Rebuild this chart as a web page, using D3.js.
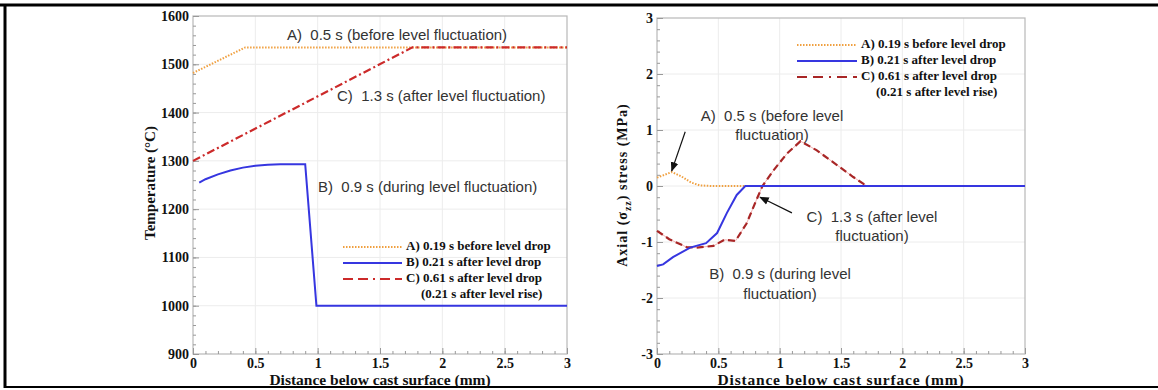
<!DOCTYPE html>
<html><head><meta charset="utf-8">
<script src="https://cdnjs.cloudflare.com/ajax/libs/d3/7.8.5/d3.min.js"></script>
<style>body{margin:0;background:#fff}svg{display:block}</style>
</head><body>
<svg id="chart" width="1158" height="390"></svg>
<script>
// ---------- DATA ----------
const xTicks = [0, 0.5, 1, 1.5, 2, 2.5, 3];
const xTickLabels = ["0", "0.5", "1", "1.5", "2", "2.5", "3"];
const tempTicks = [900, 1000, 1100, 1200, 1300, 1400, 1500, 1600];
const stressTicks = [-3, -2, -1, 0, 1, 2, 3];

// Temperature (°C) vs distance (mm)
const tempA = [[0,1482],[0.42,1535],[3,1535]];
const tempB = [[0.05,1255],[0.1,1262],[0.2,1272],[0.3,1280],[0.4,1286],[0.5,1290],[0.6,1292],[0.7,1293],[0.8,1293],[0.9,1293],[0.99,1000],[3,1000]];
const tempC = [[0,1300],[1.76,1535],[3,1535]];

// Axial stress (MPa) vs distance (mm)
const stressA = [[0,0.15],[0.05,0.19],[0.12,0.25],[0.2,0.17],[0.28,0.06],[0.35,0.01],[0.45,0],[3,0]];
const stressB = [[0,-1.43],[0.05,-1.4],[0.13,-1.27],[0.27,-1.1],[0.4,-1.02],[0.49,-0.84],[0.57,-0.48],[0.65,-0.16],[0.72,0],[3,0]];
const stressC = [[0,-0.8],[0.1,-0.95],[0.24,-1.09],[0.32,-1.1],[0.46,-1.07],[0.55,-0.96],[0.64,-0.98],[0.73,-0.67],[0.82,-0.2],[0.86,0],[0.95,0.28],[1.06,0.58],[1.17,0.8],[1.3,0.64],[1.47,0.37],[1.6,0.16],[1.71,0],[3,0]];

const legendLabels = ["A) 0.19 s before level drop", "B) 0.21 s after level drop", "C) 0.61 s after level drop", "(0.21 s after level rise)"];

// ---------- DRAW ----------
const svg = d3.select("#chart");
const serif = "'Liberation Serif','Times New Roman',serif";
const sans = "'Liberation Sans',Arial,sans-serif";

// border
svg.append("line").attr("x1",0).attr("x2",1158).attr("y1",5).attr("y2",5).attr("stroke","#000").attr("stroke-width",3);
svg.append("line").attr("x1",5).attr("x2",5).attr("y1",4).attr("y2",388).attr("stroke","#000").attr("stroke-width",3);
svg.append("line").attr("x1",4).attr("x2",1158).attr("y1",387).attr("y2",387).attr("stroke","#000").attr("stroke-width",2);

const orange = "#f0a040", blue = "#3636e0", red = "#cc2a2a", darkred = "#a82626";

function panel(o) {
  const x = d3.scaleLinear().domain([0,3]).range([o.left, o.right]);
  const y = d3.scaleLinear().domain(o.ydom).range([o.bottom, o.top]);
  const g = svg.append("g");
  // gridlines
  g.selectAll(".vg").data(xTicks.slice(1,-1)).join("line")
    .attr("x1",d=>x(d)).attr("x2",d=>x(d)).attr("y1",o.top).attr("y2",o.bottom)
    .attr("stroke","#ececec").attr("stroke-width",1);
  g.selectAll(".hg").data(o.yticks.slice(1,-1)).join("line")
    .attr("y1",d=>y(d)).attr("y2",d=>y(d)).attr("x1",o.left).attr("x2",o.right)
    .attr("stroke","#ececec").attr("stroke-width",1);
  // frame
  g.append("rect").attr("x",o.left).attr("y",o.top).attr("width",o.right-o.left).attr("height",o.bottom-o.top)
    .attr("fill","none").attr("stroke","#b8b8b8").attr("stroke-width",1.2);
  // axes with inward ticks
  const xAx = d3.axisBottom(x).tickValues(d3.range(0,3.001,0.1)).tickSize(-3).tickFormat("");
  g.append("g").attr("transform",`translate(0,${o.bottom})`).call(xAx)
    .call(s=>{s.select(".domain").remove(); s.selectAll("line").attr("stroke","#999");});
  const xAxM = d3.axisBottom(x).tickValues(xTicks).tickSize(-6).tickPadding(4).tickFormat((d,i)=>xTickLabels[i]);
  g.append("g").attr("transform",`translate(0,${o.bottom})`).call(xAxM)
    .call(s=>{s.select(".domain").remove(); s.selectAll("line").attr("stroke","#999");
      s.selectAll("text").attr("font-family",serif).attr("font-weight","bold").attr("font-size",14).attr("fill","#111");});
  const yAx = d3.axisLeft(y).tickValues(o.yminor).tickSize(-3).tickFormat("");
  g.append("g").attr("transform",`translate(${o.left},0)`).call(yAx)
    .call(s=>{s.select(".domain").remove(); s.selectAll("line").attr("stroke","#999");});
  const yAxM = d3.axisLeft(y).tickValues(o.yticks).tickSize(-6).tickPadding(4).tickFormat(d=>d);
  g.append("g").attr("transform",`translate(${o.left},0)`).call(yAxM)
    .call(s=>{s.select(".domain").remove(); s.selectAll("line").attr("stroke","#999");
      s.selectAll("text").attr("font-family",serif).attr("font-weight","bold").attr("font-size",14).attr("fill","#111");});
  // axis titles
  g.append("text").attr("x",(o.left+o.right)/2).attr("y",385).attr("text-anchor","middle")
    .attr("font-family",serif).attr("font-weight","bold").attr("font-size",15.5).attr("fill","#111")
    .attr("letter-spacing",o.xls).text("Distance below cast surface (mm)");
  return {x,y,g};
}

const line = (x,y)=>d3.line().x(d=>x(d[0])).y(d=>y(d[1]));

// ---- Left panel ----
const L = panel({left:193,right:567,top:16,bottom:354,ydom:[900,1600],yticks:tempTicks,
  yminor:d3.range(900,1601,20),xls:0});
L.g.append("path").attr("d",line(L.x,L.y)(tempA)).attr("fill","none").attr("stroke",orange).attr("stroke-width",2).attr("stroke-dasharray","1.5,1.5");
L.g.append("path").attr("d",line(L.x,L.y)(tempC)).attr("fill","none").attr("stroke",red).attr("stroke-width",2.2).attr("stroke-dasharray","8,3,2,3");
L.g.append("path").attr("d",line(L.x,L.y)(tempB)).attr("fill","none").attr("stroke",blue).attr("stroke-width",2);
// y title
svg.append("text").attr("transform","translate(155,183) rotate(-90)").attr("text-anchor","middle")
  .attr("font-family",serif).attr("font-weight","bold").attr("font-size",15).attr("fill","#111").text("Temperature (°C)");
// annotations
function ann(x,y,t,anchor){
  svg.append("text").attr("x",x).attr("y",y).attr("text-anchor",anchor||"start").attr("dominant-baseline","middle")
    .attr("font-family",sans).attr("font-size",15).attr("fill","#333").style("white-space","pre").text(t);
}
ann(287,36,"A)  0.5 s (before level fluctuation)");
ann(337,97,"C)  1.3 s (after level fluctuation)");
ann(318,188,"B)  0.9 s (during level fluctuation)");

function legend(x0,x1,tx,y0,cStyle){
  const styles=[{c:orange,w:2,da:"1.5,1.5"},{c:blue,w:2,da:null},cStyle];
  styles.forEach((s,i)=>{
    svg.append("line").attr("x1",x0).attr("x2",x1).attr("y1",y0+i*16).attr("y2",y0+i*16)
      .attr("stroke",s.c).attr("stroke-width",s.w).attr("stroke-dasharray",s.da);
  });
  legendLabels.forEach((t,i)=>{
    svg.append("text").attr("x",i<3?tx:tx+15).attr("y",y0+i*16).attr("dominant-baseline","middle")
      .attr("font-family",serif).attr("font-weight","bold").attr("font-size",13).attr("fill","#111").text(t);
  });
}
legend(343,402,406,247,{c:red,w:2.2,da:"10,5,10,5,2,5"});

// ---- Right panel ----
const R = panel({left:657,right:1025,top:18,bottom:354,ydom:[-3,3],yticks:stressTicks,
  yminor:d3.range(-3,3.001,0.2),xls:0.8});
R.g.append("path").attr("d",line(R.x,R.y)(stressA)).attr("fill","none").attr("stroke",orange).attr("stroke-width",2).attr("stroke-dasharray","1.5,1.5");
R.g.append("path").attr("d",line(R.x,R.y)(stressC)).attr("fill","none").attr("stroke","#f4b0b0").attr("stroke-width",1);
R.g.append("path").attr("d",line(R.x,R.y)(stressC)).attr("fill","none").attr("stroke",darkred).attr("stroke-width",2.2).attr("stroke-dasharray","7,4");
R.g.append("path").attr("d",line(R.x,R.y)(stressB)).attr("fill","none").attr("stroke",blue).attr("stroke-width",2);

// y title with subscript
const yt = svg.append("text").attr("transform","translate(627,185) rotate(-90)").attr("text-anchor","middle")
  .attr("font-family",serif).attr("font-weight","bold").attr("font-size",14).attr("fill","#111").attr("letter-spacing",1);
yt.append("tspan").text("Axial (σ");
yt.append("tspan").attr("font-size",10).attr("dy",4).text("zz");
yt.append("tspan").attr("dy",-4).text(") stress (MPa)");

ann(772,117,"A)  0.5 s (before level","middle");
ann(772,136,"fluctuation)","middle");
ann(872,218,"C)  1.3 s (after level","middle");
ann(872,237,"fluctuation)","middle");
ann(780,275,"B)  0.9 s (during level","middle");
ann(780,295,"fluctuation)","middle");

// arrows
const defs = svg.append("defs");
defs.append("marker").attr("id","ah").attr("viewBox","0 0 10 10").attr("refX",9).attr("refY",5)
  .attr("markerWidth",8).attr("markerHeight",8).attr("orient","auto-start-reverse")
  .append("path").attr("d","M0,1 L10,5 L0,9 Z").attr("fill","#111");
function arrow(xa,ya,xb,yb){
  svg.append("line").attr("x1",R.x(xa)).attr("y1",R.y(ya)).attr("x2",R.x(xb)).attr("y2",R.y(yb))
    .attr("stroke","#111").attr("stroke-width",1.2).attr("marker-end","url(#ah)");
}
arrow(0.23,0.97,0.12,0.27);
arrow(1.1,-0.48,0.84,-0.2);

legend(797,857,861,45,{c:darkred,w:2.2,da:"10,6,10,6,2,6"});
</script>
</body></html>
